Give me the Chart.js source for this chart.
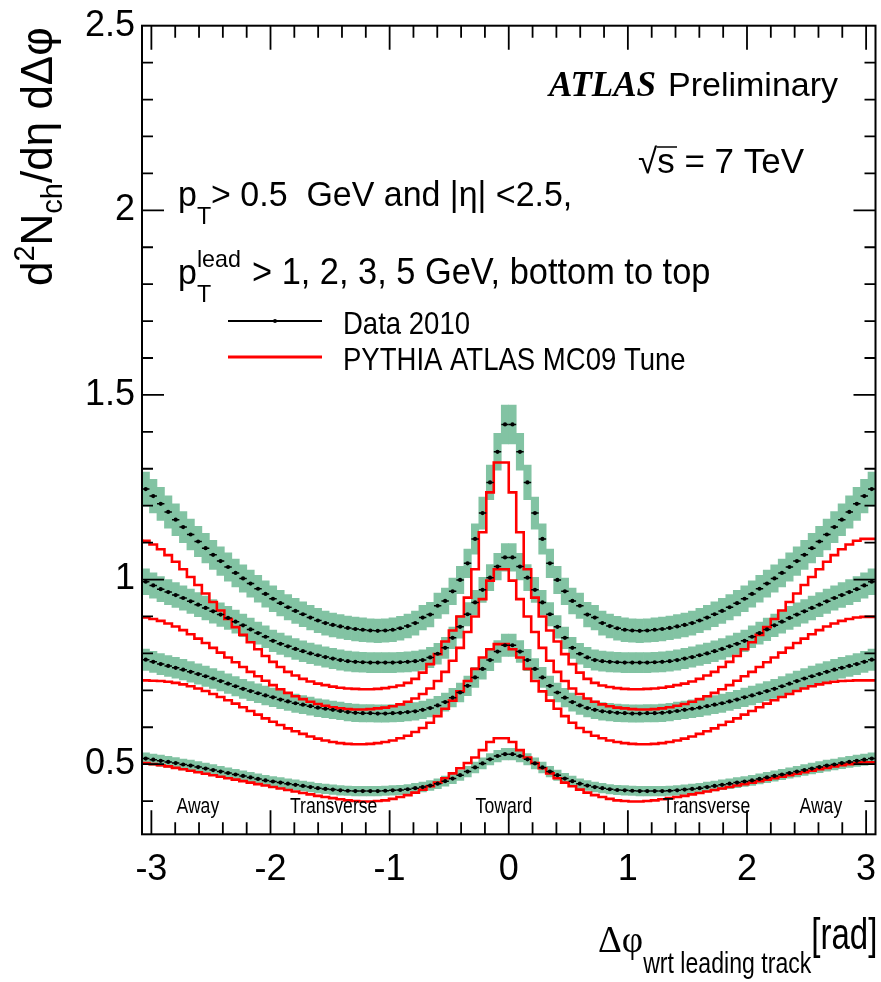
<!DOCTYPE html>
<html lang="en">
<head>
<meta charset="UTF-8">
<title>Charged particle density vs delta phi wrt leading track</title>
<script src="https://cdn.jsdelivr.net/npm/chart.js@4"></script>
<style>
  html, body { margin: 0; padding: 0; background: #fff; }
  #wrap { width: 881px; height: 982px; }
</style>
</head>
<body>
<div id="wrap"><canvas id="myChart"></canvas></div>
<script>
// 100 bins over [-pi, pi]; the outermost bin on each side is not shown
const nBins = 98;
const binWidth = 2 * Math.PI / 100;
const phiMin = -Math.PI + binWidth;
const phiMax = Math.PI - binWidth;

const xTickLabels = [-3, -2, -1, 0, 1, 2, 3];
const yTickLabels = [0.5, 1, 1.5, 2, 2.5];
const regionNames = ["Away", "Transverse", "Toward", "Transverse", "Away"];
const regionPhi = [-2.61, -1.47, -0.04, 1.66, 2.62];

// Data 2010, p_T^lead > 1, 2, 3, 5 GeV
const data1 = [
  0.515,0.512,0.509,0.506,0.503,0.499,0.496,0.492,0.488,0.484,0.480,0.476,0.472,0.468,0.464,0.460,0.456,0.453,0.450,0.447,
  0.444,0.441,0.438,0.435,0.433,0.431,0.429,0.428,0.427,0.427,0.427,0.427,0.428,0.429,0.430,0.432,0.435,0.438,0.442,0.447,
  0.454,0.461,0.470,0.480,0.491,0.502,0.513,0.522,0.527,
  0.527,0.522,0.513,0.502,0.491,0.480,0.470,0.461,0.454,0.447,0.442,0.438,0.435,0.432,0.430,0.429,0.428,0.427,0.427,0.427,
  0.427,0.428,0.429,0.431,0.433,0.435,0.438,0.441,0.444,0.447,0.450,0.453,0.456,0.460,0.464,0.468,0.472,0.476,0.480,0.484,
  0.488,0.492,0.496,0.499,0.503,0.506,0.509,0.512,0.515];
const data2 = [
  0.783,0.777,0.771,0.766,0.761,0.756,0.750,0.744,0.738,0.732,0.725,0.718,0.711,0.704,0.698,0.692,0.686,0.681,0.675,0.670,
  0.665,0.661,0.657,0.653,0.650,0.647,0.644,0.641,0.639,0.638,0.638,0.637,0.637,0.638,0.639,0.641,0.643,0.647,0.652,0.659,
  0.668,0.680,0.694,0.712,0.735,0.758,0.782,0.805,0.822,
  0.822,0.805,0.782,0.758,0.735,0.712,0.694,0.680,0.668,0.659,0.652,0.647,0.643,0.641,0.639,0.638,0.637,0.637,0.638,0.638,
  0.639,0.641,0.644,0.647,0.650,0.653,0.657,0.661,0.665,0.670,0.675,0.681,0.686,0.692,0.698,0.704,0.711,0.718,0.725,0.732,
  0.738,0.744,0.750,0.756,0.761,0.766,0.771,0.777,0.783];
const data3 = [
  0.994,0.984,0.974,0.966,0.958,0.950,0.941,0.932,0.923,0.914,0.905,0.896,0.886,0.876,0.865,0.855,0.845,0.834,0.826,0.819,
  0.812,0.806,0.800,0.795,0.790,0.786,0.782,0.779,0.777,0.776,0.775,0.775,0.775,0.775,0.776,0.777,0.779,0.782,0.789,0.799,
  0.815,0.842,0.872,0.906,0.938,0.972,1.005,1.035,1.060,
  1.060,1.035,1.005,0.972,0.938,0.906,0.872,0.842,0.815,0.799,0.789,0.782,0.779,0.777,0.776,0.775,0.775,0.775,0.775,0.776,
  0.777,0.779,0.782,0.786,0.790,0.795,0.800,0.806,0.812,0.819,0.826,0.834,0.845,0.855,0.865,0.876,0.886,0.896,0.905,0.914,
  0.923,0.932,0.941,0.950,0.958,0.966,0.974,0.984,0.994];
const data5 = [
  1.245,1.226,1.205,1.183,1.162,1.142,1.122,1.103,1.085,1.067,1.050,1.034,1.018,1.003,0.989,0.975,0.961,0.948,0.936,0.925,
  0.915,0.906,0.897,0.889,0.882,0.877,0.873,0.869,0.866,0.864,0.862,0.861,0.862,0.864,0.868,0.874,0.882,0.897,0.905,0.929,
  0.942,0.968,0.999,1.044,1.110,1.180,1.263,1.346,1.420,
  1.420,1.346,1.263,1.180,1.110,1.044,0.999,0.968,0.942,0.929,0.905,0.897,0.882,0.874,0.868,0.864,0.862,0.861,0.862,0.864,
  0.866,0.869,0.873,0.877,0.882,0.889,0.897,0.906,0.915,0.925,0.936,0.948,0.961,0.975,0.989,1.003,1.018,1.034,1.050,1.067,
  1.085,1.103,1.122,1.142,1.162,1.183,1.205,1.226,1.245];

// PYTHIA ATLAS MC09, same cuts
const mc1 = [
  0.505,0.503,0.500,0.497,0.494,0.490,0.486,0.482,0.478,0.474,0.470,0.466,0.462,0.458,0.454,0.450,0.446,0.442,0.438,0.434,
  0.430,0.426,0.422,0.418,0.414,0.411,0.408,0.405,0.402,0.400,0.399,0.399,0.400,0.402,0.406,0.411,0.416,0.423,0.431,0.440,
  0.450,0.462,0.475,0.489,0.503,0.518,0.538,0.560,0.570,
  0.570,0.560,0.538,0.518,0.503,0.489,0.475,0.462,0.450,0.440,0.431,0.423,0.416,0.411,0.406,0.402,0.400,0.399,0.399,0.400,
  0.402,0.405,0.408,0.411,0.414,0.418,0.422,0.426,0.430,0.434,0.438,0.442,0.446,0.450,0.454,0.458,0.462,0.466,0.470,0.474,
  0.478,0.482,0.486,0.490,0.494,0.497,0.500,0.503,0.505];
const mc2 = [
  0.727,0.727,0.726,0.725,0.723,0.720,0.716,0.711,0.705,0.698,0.690,0.682,0.673,0.664,0.654,0.644,0.634,0.624,0.615,0.606,
  0.597,0.589,0.582,0.575,0.569,0.564,0.560,0.557,0.555,0.554,0.554,0.555,0.557,0.560,0.564,0.570,0.577,0.587,0.598,0.612,
  0.630,0.650,0.672,0.697,0.725,0.758,0.789,0.811,0.825,
  0.825,0.811,0.789,0.758,0.725,0.697,0.672,0.650,0.630,0.612,0.598,0.587,0.577,0.570,0.564,0.560,0.557,0.555,0.554,0.554,
  0.555,0.557,0.560,0.564,0.569,0.575,0.582,0.589,0.597,0.606,0.615,0.624,0.634,0.644,0.654,0.664,0.673,0.682,0.690,0.698,
  0.705,0.711,0.716,0.720,0.723,0.725,0.726,0.727,0.727];
const mc3 = [
  0.899,0.897,0.893,0.888,0.881,0.873,0.863,0.852,0.840,0.828,0.815,0.802,0.789,0.776,0.763,0.750,0.738,0.726,0.714,0.703,
  0.693,0.684,0.676,0.669,0.663,0.658,0.654,0.651,0.649,0.648,0.648,0.649,0.651,0.653,0.657,0.662,0.669,0.678,0.690,0.705,
  0.725,0.750,0.780,0.815,0.858,0.900,0.947,0.997,1.028,
  1.028,0.997,0.947,0.900,0.858,0.815,0.780,0.750,0.725,0.705,0.690,0.678,0.669,0.662,0.657,0.653,0.651,0.649,0.648,0.648,
  0.649,0.651,0.654,0.658,0.663,0.669,0.676,0.684,0.693,0.703,0.714,0.726,0.738,0.750,0.763,0.776,0.789,0.802,0.815,0.828,
  0.840,0.852,0.863,0.873,0.881,0.888,0.893,0.897,0.899];
const mc5 = [
  1.110,1.105,1.095,1.082,1.066,1.048,1.028,1.007,0.985,0.962,0.939,0.916,0.893,0.871,0.850,0.830,0.811,0.793,0.777,0.763,
  0.750,0.740,0.731,0.724,0.718,0.714,0.710,0.707,0.705,0.704,0.703,0.703,0.704,0.706,0.709,0.713,0.720,0.731,0.748,0.771,
  0.798,0.832,0.862,0.900,0.951,1.028,1.128,1.236,1.317,
  1.317,1.236,1.128,1.028,0.951,0.900,0.862,0.832,0.798,0.771,0.748,0.731,0.720,0.713,0.709,0.706,0.704,0.703,0.703,0.704,
  0.705,0.707,0.710,0.714,0.718,0.724,0.731,0.740,0.750,0.763,0.777,0.793,0.811,0.830,0.850,0.871,0.893,0.916,0.939,0.962,
  0.985,1.007,1.028,1.048,1.066,1.082,1.095,1.105,1.110];

// relative size of the green uncertainty band for each data curve
const dataSeries = [data1, data2, data3, data5];
const bandRel = [0.030, 0.037, 0.035, 0.037];
const mcSeries = [mc1, mc2, mc3, mc5];

const SANS = "'Liberation Sans', Arial, sans-serif";
const SERIF = "'Liberation Serif', 'Times New Roman', serif";
const GREEN = 'rgb(130,195,163)';

const binCentres = Array.from({ length: nBins }, (_, i) => phiMin + binWidth * (i + 0.5));
const binEdges = Array.from({ length: nBins + 1 }, (_, i) => phiMin + binWidth * i);

const datasets = [];
dataSeries.forEach((vals, s) => {
  datasets.push({
    type: 'bar',
    data: binCentres.map((c, i) => ({ x: c, y: [vals[i] * (1 - bandRel[s]), vals[i] * (1 + bandRel[s])] })),
    backgroundColor: GREEN,
    borderWidth: 0,
    barPercentage: 1,
    categoryPercentage: 1,
    grouped: false,
    order: 5
  });
});
mcSeries.forEach(vals => {
  const pts = binEdges.map((e, i) => ({ x: e, y: vals[Math.min(i, nBins - 1)] }));
  datasets.push({
    type: 'line',
    data: pts,
    stepped: 'after',
    borderColor: '#ff0000',
    borderWidth: 2.6,
    pointRadius: 0,
    fill: false,
    order: 3
  });
});
dataSeries.forEach(vals => {
  const pts = binCentres.map((c, i) => ({ x: c, y: vals[i] }));
  datasets.push({
    type: 'scatter',
    data: pts,
    pointStyle: 'line',
    pointRadius: 3.7,
    borderColor: '#000',
    borderWidth: 1.5,
    showLine: false,
    order: 2
  });
  datasets.push({
    type: 'scatter',
    data: pts,
    pointStyle: 'circle',
    pointRadius: 2.1,
    backgroundColor: '#000',
    borderWidth: 0,
    showLine: false,
    order: 1
  });
});

// draw a string made of runs: [{t, size, dy, dx, font, style, sx}]
function drawRuns(ctx, x, y, runs, rot) {
  ctx.save();
  ctx.translate(x, y);
  if (rot) ctx.rotate(rot);
  ctx.fillStyle = '#000';
  ctx.textBaseline = 'alphabetic';
  let cx = 0;
  runs.forEach(r => {
    ctx.font = (r.style || '') + ' ' + r.size + 'px ' + (r.font || SANS);
    const sx = r.sx || 1;
    ctx.save();
    ctx.translate(cx + (r.dx || 0), r.dy || 0);
    ctx.scale(sx, 1);
    ctx.fillText(r.t, 0, 0);
    ctx.restore();
    if (!r.noAdvance) cx += (r.dx || 0) + ctx.measureText(r.t).width * sx;
  });
  ctx.restore();
}

const rootFrame = {
  id: 'rootFrame',
  afterDraw(chart) {
    const { ctx, chartArea: a, scales: { x, y } } = chart;
    ctx.save();
    ctx.strokeStyle = '#000';
    ctx.lineWidth = 2;
    ctx.strokeRect(a.left, a.top, a.right - a.left, a.bottom - a.top);
    ctx.lineWidth = 1.8;
    ctx.beginPath();
    for (let k = -15; k <= 15; k++) {
      const px = x.getPixelForValue(k * 0.2);
      if (px < a.left + 1 || px > a.right - 1) continue;
      const len = (k % 5 === 0) ? 24 : 12;
      ctx.moveTo(px, a.bottom); ctx.lineTo(px, a.bottom - len);
      ctx.moveTo(px, a.top); ctx.lineTo(px, a.top + len);
    }
    for (let k = 4; k <= 25; k++) {
      const py = y.getPixelForValue(k * 0.1);
      if (py > a.bottom - 1 || py < a.top + 1) continue;
      const len = (k % 5 === 0) ? 22 : 11;
      ctx.moveTo(a.left, py); ctx.lineTo(a.left + len, py);
      ctx.moveTo(a.right, py); ctx.lineTo(a.right - len, py);
    }
    ctx.stroke();
    ctx.restore();
  }
};

const annotations = {
  id: 'annotations',
  afterDatasetsDraw(chart) {
    const { ctx, scales: { x } } = chart;
    // region names
    regionNames.forEach((n, i) => {
      ctx.save();
      ctx.font = '22px ' + SANS;
      ctx.textAlign = 'center';
      ctx.fillStyle = '#000';
      ctx.translate(x.getPixelForValue(regionPhi[i]), 813);
      ctx.scale(0.8, 1);
      ctx.fillText(n, 0, 0);
      ctx.restore();
    });
    // ATLAS Preliminary
    drawRuns(ctx, 549, 96, [{ t: 'ATLAS', size: 35, font: SERIF, style: 'italic bold' }]);
    drawRuns(ctx, 668, 96, [{ t: 'Preliminary', size: 34 }]);
    // sqrt(s) = 7 TeV
    drawRuns(ctx, 638, 173, [
      { t: '\u221A', size: 35 },
      { t: 's = 7 TeV', size: 35 }
    ]);
    ctx.save();
    ctx.strokeStyle = '#000';
    ctx.lineWidth = 1.5;
    ctx.beginPath(); ctx.moveTo(657, 147); ctx.lineTo(677, 147); ctx.stroke();
    ctx.restore();
    // cut descriptions
    drawRuns(ctx, 178, 206, [
      { t: 'p', size: 35, sx: 0.97 },
      { t: 'T', size: 24, dy: 18, sx: 0.97 },
      { t: '> 0.5  GeV and |\u03B7| <2.5,', size: 35, sx: 0.97 }
    ]);
    drawRuns(ctx, 178, 284, [
      { t: 'p', size: 35, sx: 0.97 },
      { t: 'lead', size: 24, dy: -17, noAdvance: true, sx: 0.97 },
      { t: 'T', size: 24, dy: 18, sx: 0.97 }
    ]);
    drawRuns(ctx, 252, 284, [{ t: '> 1, 2, 3, 5 GeV, bottom to top', size: 36, sx: 0.955 }]);
    // legend
    ctx.save();
    ctx.lineWidth = 2;
    ctx.strokeStyle = '#000';
    ctx.beginPath(); ctx.moveTo(228, 321); ctx.lineTo(322, 321); ctx.stroke();
    ctx.fillStyle = '#000';
    ctx.beginPath(); ctx.arc(275, 321, 2, 0, 2 * Math.PI); ctx.fill();
    ctx.strokeStyle = '#ff0000';
    ctx.lineWidth = 3;
    ctx.beginPath(); ctx.moveTo(228, 357); ctx.lineTo(322, 357); ctx.stroke();
    ctx.restore();
    drawRuns(ctx, 343, 334, [{ t: 'Data 2010', size: 32, sx: 0.86 }]);
    drawRuns(ctx, 343, 370, [{ t: 'PYTHIA ATLAS MC09 Tune', size: 32, sx: 0.86 }]);
    // y title
    drawRuns(ctx, 52, 286, [
      { t: 'd', size: 44 },
      { t: '2', size: 29, dy: -18 },
      { t: 'N', size: 44 },
      { t: 'ch', size: 29, dy: 10 },
      { t: '/d\u03B7 d\u0394\u03C6', size: 44 }
    ], -Math.PI / 2);
    // x title
    drawRuns(ctx, 598, 952, [
      { t: '\u0394\u03C6', size: 37, font: SERIF },
      { t: 'wrt leading track', size: 30, dy: 21, sx: 0.77 },
      { t: '[rad]', size: 44, dy: -3, sx: 0.75 }
    ]);
  }
};

Chart.defaults.font.family = SANS;
Chart.defaults.color = '#000';

new Chart(document.getElementById('myChart'), {
  type: 'scatter',
  data: { datasets },
  options: {
    responsive: true,
    maintainAspectRatio: false,
    animation: false,
    events: [],
    layout: { padding: { top: 25.7, right: 4, left: 0, bottom: 0 } },
    plugins: { legend: { display: false }, tooltip: { enabled: false } },
    scales: {
      x: {
        type: 'linear',
        min: phiMin,
        max: phiMax,
        offset: false,
        afterBuildTicks: s => { s.ticks = xTickLabels.map(v => ({ value: v })); },
        afterFit: s => { s.height = 982 - 834.3; s.paddingLeft = 0; s.paddingRight = 0; },
        ticks: { font: { size: 36 }, color: '#000', padding: 14, maxRotation: 0, autoSkip: false, callback: v => String(v) },
        grid: { display: false, drawTicks: false },
        border: { display: false }
      },
      y: {
        type: 'linear',
        min: 0.31,
        max: 2.5,
        beginAtZero: false,
        afterBuildTicks: s => { s.ticks = yTickLabels.map(v => ({ value: v })); },
        afterFit: s => { s.width = 142; s.paddingTop = 0; s.paddingBottom = 0; },
        ticks: { font: { size: 36 }, color: '#000', padding: 7, autoSkip: false, callback: v => String(v) },
        grid: { display: false, drawTicks: false },
        border: { display: false }
      }
    }
  },
  plugins: [annotations, rootFrame]
});
</script>
</body>
</html>
